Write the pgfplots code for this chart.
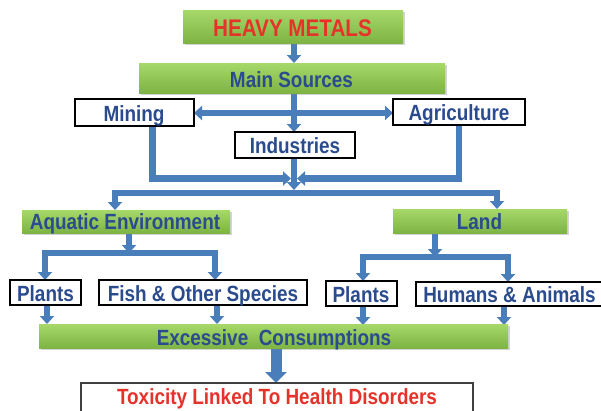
\documentclass[border=0pt]{standalone}
\usepackage{pgfplots}
\pgfplotsset{compat=1.18}
\usepackage{fontspec}
\setmainfont[FakeStretch=0.86]{Liberation Sans}
\usetikzlibrary{arrows.meta,shadows}
\definecolor{txtblue}{HTML}{2A4B8D}
\definecolor{txtred}{HTML}{E5332A}
\definecolor{arblue}{HTML}{4A7EBB}
\definecolor{gtop}{HTML}{A6D86A}
\definecolor{gbot}{HTML}{7DB443}
\tikzset{
  gbox/.style={top color=gtop, bottom color=gbot, draw=none,
    drop shadow={shadow xshift=1.5pt, shadow yshift=-2pt, opacity=0.35}},
  wbox/.style={fill=white, draw=black, line width=2.2pt},
  arr/.style={draw=arblue, line width=6.5pt, -{Triangle[width=14pt,length=8pt]}},
  arr2/.style={draw=arblue, line width=6.5pt, {Triangle[width=14pt,length=8pt]}-{Triangle[width=14pt,length=8pt]}},
  lbl/.style={anchor=base, inner sep=0pt, text=txtblue, font=\fontsize{22pt}{22pt}\selectfont\bfseries},
}
\begin{document}
\begin{tikzpicture}
\begin{axis}[
  width=601pt, height=410pt, scale only axis, hide axis,
  xmin=0, xmax=601, ymin=0, ymax=410, y dir=reverse, clip=false]
% ---- arrows ----
\draw[arr] (axis cs:294,43) -- (axis cs:294,63);
\draw[arr] (axis cs:294,93) -- (axis cs:294,132);
\draw[arr2] (axis cs:194,113) -- (axis cs:393,113);
\draw[arr] (axis cs:294,158) -- (axis cs:294,190);
\draw[arr] (axis cs:152.5,126) -- (axis cs:152.5,178.5) -- (axis cs:291,178.5);
\draw[arr] (axis cs:459,125) -- (axis cs:459,178.5) -- (axis cs:297,178.5);
\draw[arr2] (axis cs:115,210) -- (axis cs:115,193) -- (axis cs:497,193) -- (axis cs:497,209);
\draw[arr] (axis cs:129,233) -- (axis cs:129,253);
\draw[arr2] (axis cs:45,280) -- (axis cs:45,253) -- (axis cs:215,253) -- (axis cs:215,280);
\draw[arr] (axis cs:435,233) -- (axis cs:435,257);
\draw[arr2] (axis cs:363,281) -- (axis cs:363,257) -- (axis cs:508,257) -- (axis cs:508,282);
\draw[arr] (axis cs:47,305) -- (axis cs:47,324);
\draw[arr] (axis cs:217,305) -- (axis cs:217,324);
\draw[arr] (axis cs:363,306) -- (axis cs:363,325);
\draw[arr] (axis cs:504,306) -- (axis cs:504,325);
\draw[draw=arblue, line width=11pt, -{Triangle[width=21pt,length=11pt]}] (axis cs:276,349) -- (axis cs:276,383);
% ---- boxes ----
\path[gbox] (axis cs:183,10) rectangle (axis cs:403,43);
\path[gbox] (axis cs:139,63) rectangle (axis cs:445,93);
\path[wbox] (axis cs:75,99) rectangle (axis cs:194,126);
\path[wbox] (axis cs:393,99) rectangle (axis cs:525,125);
\path[wbox] (axis cs:235,132) rectangle (axis cs:355,158);
\path[gbox] (axis cs:22,210) rectangle (axis cs:230,233);
\path[gbox] (axis cs:393,209) rectangle (axis cs:567,233);
\path[wbox] (axis cs:10,280) rectangle (axis cs:81,305);
\path[wbox] (axis cs:99,280) rectangle (axis cs:307,305);
\path[wbox] (axis cs:326,281) rectangle (axis cs:397,306);
\path[wbox] (axis cs:416,282) rectangle (axis cs:608,306);
\path[gbox] (axis cs:39,324) rectangle (axis cs:508,348);
\path[fill=white, draw=black!75, line width=1.2pt] (axis cs:81,383) rectangle (axis cs:473,416);
% ---- labels ----
\node[lbl, text=txtred, font=\fontsize{24pt}{24pt}\selectfont\bfseries] at (axis cs:292.5,36) {HEAVY METALS};
\node[lbl] at (axis cs:291.5,87.5) {Main Sources};
\node[lbl] at (axis cs:134,121.5) {Mining};
\node[lbl] at (axis cs:459,120.5) {Agriculture};
\node[lbl] at (axis cs:295,153) {Industries};
\node[lbl] at (axis cs:125,229) {Aquatic Environment};
\node[lbl] at (axis cs:479.5,229) {Land};
\node[lbl] at (axis cs:45.5,301) {Plants};
\node[lbl] at (axis cs:203,301) {Fish \& Other Species};
\node[lbl] at (axis cs:361,302) {Plants};
\node[lbl] at (axis cs:509.5,302) {Humans \& Animals};
\node[lbl] at (axis cs:274,345) {Excessive\ \ Consumptions};
\node[lbl, text=txtred] at (axis cs:277,404.5) {Toxicity Linked To Health Disorders};
\end{axis}
\pgfresetboundingbox
\path (0,0) rectangle (601pt,410pt);
\end{tikzpicture}
\end{document}
